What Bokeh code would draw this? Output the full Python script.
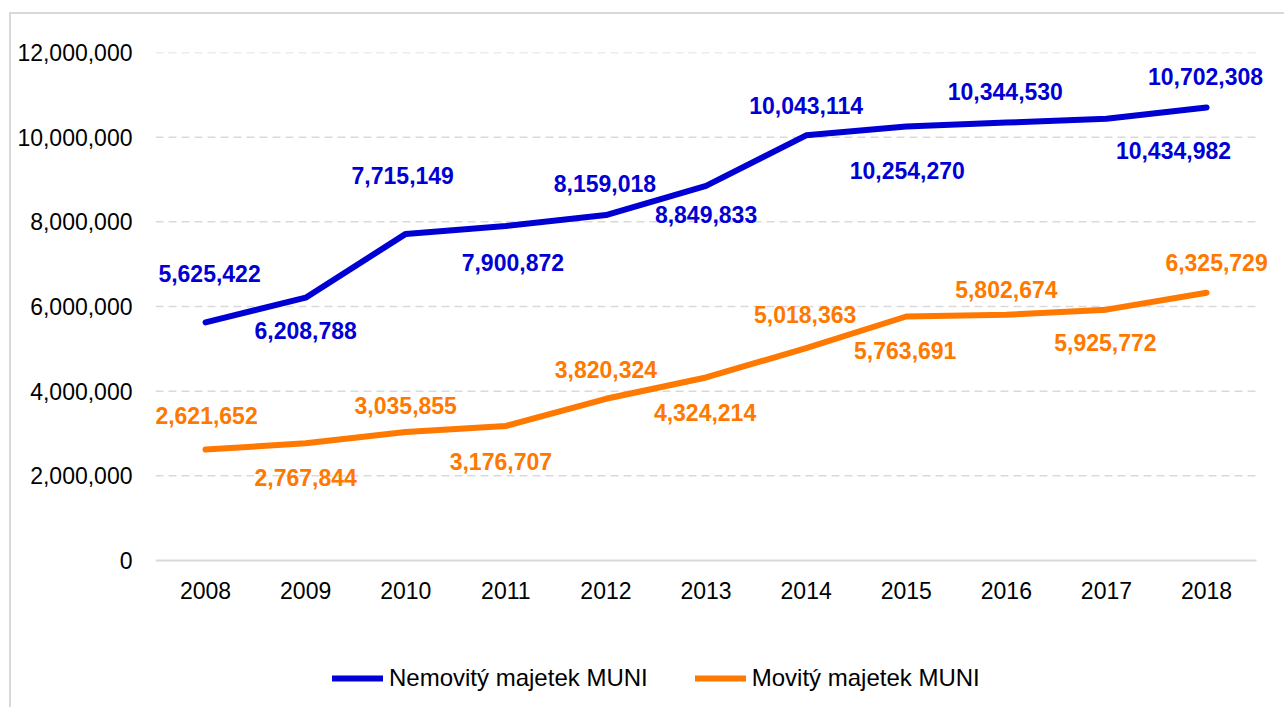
from bokeh.plotting import figure
from bokeh.models import (ColumnDataSource, Range1d, FixedTicker,
                          NumeralTickFormatter, LabelSet, Legend, LegendItem)
from bokeh.core.properties import value
from bokeh.embed import file_html
from bokeh.resources import INLINE

# --- data -------------------------------------------------------------
years = [2008, 2009, 2010, 2011, 2012, 2013, 2014, 2015, 2016, 2017, 2018]
nemovity = [5625422, 6208788, 7715149, 7900872, 8159018, 8849833,
            10043114, 10254270, 10344530, 10434982, 10702308]
movity = [2621652, 2767844, 3035855, 3176707, 3820324, 4324214,
          5018363, 5763691, 5802674, 5925772, 6325729]
series_names = ["Nemovitý majetek MUNI", "Movitý majetek MUNI"]
y_ticks = [0, 2000000, 4000000, 6000000, 8000000, 10000000, 12000000]

# value-label placement in pixels (dx right, dy up), alternating around the line
nem_dx = [4, 0, -3, 7, -1, 0, 0, 1, -1, 67, -1]
nem_dy = [49, -33, 58, -36, 32, -29, 30, -44, 31, -32, 31]
mov_dx = [1, 0, 0, -5, 0, -1, -1, -1, 0, -1, 10]
mov_dy = [34, -34, 26, -35, 29, -35, 34, -34, 25, -33, 30]

BLUE = "#0000D4"
ORANGE = "#FF7800"
GRID = "#D9D9D9"
FONT = "Liberation Sans"

src = ColumnDataSource(dict(
    year=years,
    year_txt=[str(y) for y in years],
    nem=nemovity,
    mov=movity,
    nem_txt=[f"{v:,}" for v in nemovity],
    mov_txt=[f"{v:,}" for v in movity],
    nem_dx=nem_dx, nem_dy=nem_dy,
    mov_dx=mov_dx, mov_dy=mov_dy,
))

# Layout: the value scale uses 508 px for 0..12M; the plotting frame runs on
# below zero down to the bottom edge so the year row and the legend sit in it.
W, H = 1284, 707
LEFT, TOP = 155, 52
SCALE_PX = 508
y_hi = y_ticks[-1]
y_lo = -y_hi * (H - TOP - SCALE_PX) / SCALE_PX
# each year owns a band one unit wide (100.1 px); extra room on the right
x_lo = years[0] - 0.5
x_hi = years[-1] + 0.5
x_end = x_lo + (W - LEFT) / 100.1

p = figure(width=W, height=H,
           x_range=Range1d(x_lo, x_end),
           y_range=Range1d(y_lo, y_hi),
           output_backend="svg", toolbar_location=None,
           min_border_left=LEFT, min_border_right=0,
           min_border_top=TOP, min_border_bottom=0)
p.outline_line_color = None
p.background_fill_alpha = 0
p.border_fill_alpha = 0
# chart-area frame line (left and top edges), drawn behind the transparent canvas
p.styles = {
    "background": (
        "linear-gradient(#D9D9D9,#D9D9D9) 9px 12px / 2px calc(100% - 12px) no-repeat, "
        "linear-gradient(#D9D9D9,#D9D9D9) 9px 12px / calc(100% - 9px) 2px no-repeat, "
        "#FFFFFF"
    )
}

# value axis
p.yaxis.ticker = FixedTicker(ticks=y_ticks)
p.yaxis.formatter = NumeralTickFormatter(format="0,0")
p.yaxis.axis_line_color = None
p.yaxis.major_tick_line_color = None
p.yaxis.minor_tick_line_color = None
p.yaxis.major_label_standoff = 17
p.yaxis.major_label_text_font = FONT
p.yaxis.major_label_text_font_size = "23px"
p.yaxis.major_label_text_color = "#000000"
p.xaxis.visible = False

# horizontal grid across the year bands only
p.xgrid.grid_line_color = None
p.ygrid.grid_line_color = None
grid_y = y_ticks[1:]
p.segment(x0=[x_lo] * len(grid_y), x1=[x_hi] * len(grid_y), y0=grid_y, y1=grid_y,
          line_color=GRID, line_width=1.5, line_dash="8 5")
p.segment(x0=[x_lo], x1=[x_hi], y0=[y_ticks[0]], y1=[y_ticks[0]],
          line_color=GRID, line_width=2)

# year labels under the zero line
p.add_layout(LabelSet(x="year", y=0, text="year_txt", source=src,
                      y_offset=-30, text_align="center", text_baseline="middle",
                      text_font=value(FONT), text_font_size=value("23px"),
                      text_color="#000000"))

# series
r_nem = p.line(x="year", y="nem", source=src, line_color=BLUE, line_width=6,
               line_cap="round", line_join="round")
r_mov = p.line(x="year", y="mov", source=src, line_color=ORANGE, line_width=6,
               line_cap="round", line_join="round")

# value labels
for col, color in (("nem", BLUE), ("mov", ORANGE)):
    p.add_layout(LabelSet(x="year", y=col, text=f"{col}_txt", source=src,
                          x_offset=f"{col}_dx", y_offset=f"{col}_dy",
                          text_align="center", text_baseline="middle",
                          text_font=value(FONT), text_font_size=value("23px"),
                          text_font_style="bold", text_color=color))

# legend under the plot
legend = Legend(items=[LegendItem(label=series_names[0], renderers=[r_nem]),
                       LegendItem(label=series_names[1], renderers=[r_mov])],
                orientation="horizontal", location=(177, 15),
                glyph_width=51, glyph_height=20, label_standoff=6, spacing=47,
                padding=0, margin=0, border_line_color=None,
                background_fill_alpha=0,
                label_text_font=FONT, label_text_font_size="24px",
                label_text_color="#000000")
p.add_layout(legend, "center")

open("out.html", "w").write(file_html(p, INLINE))
